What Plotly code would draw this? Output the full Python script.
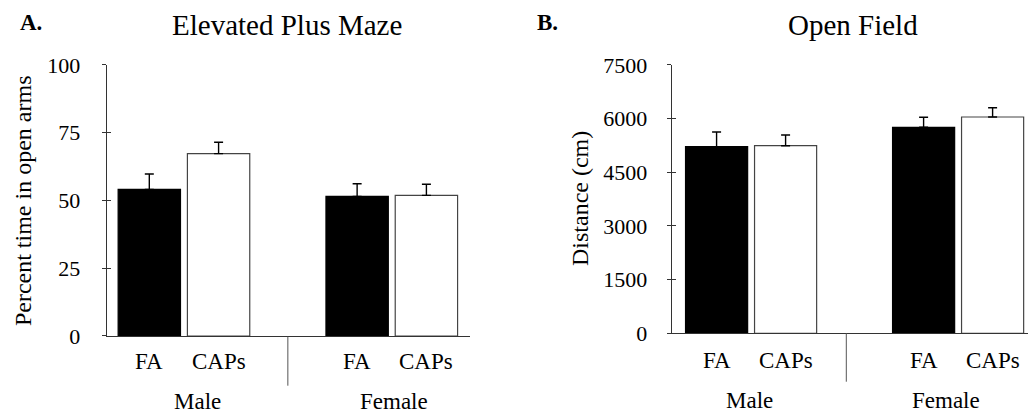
import plotly.graph_objects as go

# ---- data ----
groups = ["Male", "Female"]
treatments = ["FA", "CAPs", "FA", "CAPs"]
bar_pos = [0, 1, 3, 4]

epm_mean = [54.1, 67.3, 51.5, 51.9]
epm_sem = [5.7, 4.2, 4.7, 4.1]

of_mean = [5216, 5244, 5758, 6047]
of_sem = [411, 300, 280, 260]

epm_ticks = [0, 25, 50, 75, 100]
of_ticks = [0, 1500, 3000, 4500, 6000, 7500]

fills = ["black", "white", "black", "white"]
outlines = ["black", "#444444", "black", "#444444"]

FONT = "Liberation Serif, Times New Roman, serif"

fig = go.Figure()

def add_panel(means, sems, xa, ya):
    fig.add_trace(go.Bar(
        x=bar_pos, y=means, width=0.9,
        marker=dict(color=fills, line=dict(color=outlines, width=1.2)),
        error_y=dict(type="data", symmetric=False, array=sems,
                     arrayminus=[0] * len(sems), color="black",
                     thickness=1.4, width=4.5),
        xaxis=xa, yaxis=ya, showlegend=False, hoverinfo="skip"))

add_panel(epm_mean, epm_sem, "x", "y")
add_panel(of_mean, of_sem, "x2", "y2")
# invisible traces for the overlay axes that draw crossing tick marks
for ya, xa in [("y3", "x"), ("y4", "x2"), ("y5", "x"), ("y6", "x2")]:
    fig.add_trace(go.Scatter(x=[None], y=[None], xaxis=xa, yaxis=ya,
                             showlegend=False, hoverinfo="skip"))

axcol = "#333333"
yA = [0.1884, 0.843]
yB = [0.1949, 0.843]

def yax(domain, rng, ticks, anchor, gap):
    # labelled axis; its own ticks are transparent and only set the label gap
    return dict(domain=domain, range=rng, tickvals=ticks, ticks="outside",
                ticklen=gap, tickwidth=1, tickcolor="rgba(0,0,0,0)", showline=True,
                linecolor=axcol, linewidth=1, showgrid=False, zeroline=False,
                anchor=anchor, automargin=False,
                tickfont=dict(family=FONT, size=22, color="black"))

def yover(domain, rng, ticks, over, anchor, side):
    return dict(domain=domain, range=rng, tickvals=ticks, ticks=side,
                ticklen=4, tickwidth=1, tickcolor=axcol, showline=False,
                showticklabels=False, showgrid=False, zeroline=False,
                overlaying=over, anchor=anchor, automargin=False)

def xax(domain, rng, anchor):
    return dict(domain=domain, range=rng, showline=True, linecolor=axcol,
                linewidth=1, ticks="", showticklabels=False, showgrid=False,
                zeroline=False, anchor=anchor, automargin=False)

fig.update_layout(
    width=1029, height=414,
    margin=dict(l=0, r=0, t=0, b=0, pad=0, autoexpand=False),
    paper_bgcolor="white", plot_bgcolor="rgba(0,0,0,0)",
    bargap=0,
    xaxis=xax([0.1037, 0.4568], [-0.615, 4.63], "y"),
    xaxis2=xax([0.6528, 0.9995], [-0.65, 4.52], "y2"),
    yaxis=yax(yA, [0, 100], epm_ticks, "x", 21),
    yaxis2=yax(yB, [0, 7500], of_ticks, "x2", 19),
    yaxis3=yover(yA, [0, 100], epm_ticks, "y", "x", "inside"),
    yaxis4=yover(yB, [0, 7500], of_ticks, "y2", "x2", "inside"),
    yaxis5=yover(yA, [0, 100], epm_ticks, "y", "x", "outside"),
    yaxis6=yover(yB, [0, 7500], of_ticks, "y2", "x2", "outside"),
)

anns = []
def txt(x, y, s, size=23, xref="paper", yref="paper", bold=False, angle=0):
    anns.append(dict(x=x, y=y, xref=xref, yref=yref, text=(f"<b>{s}</b>" if bold else s),
                     showarrow=False, textangle=angle,
                     font=dict(family=FONT, size=size, color="black"),
                     xanchor="center", yanchor="middle"))

# panel letters and titles
txt(31 / 1029, 1 - 22 / 414, "A.", size=23, bold=True)
txt(547.5 / 1029, 1 - 22 / 414, "B.", size=23, bold=True)
txt(0.2792, 1 - 25 / 414, "Elevated Plus Maze", size=29)
txt(0.8293, 1 - 25 / 414, "Open Field", size=29)

# y axis titles
txt(23.3 / 1029, 1 - 200.8 / 414, "Percent time in open arms", size=24, angle=-90)
txt(580 / 1029, 1 - 199 / 414, "Distance (cm)", size=24, angle=-90)

# treatment labels
for p, t in zip(bar_pos, treatments):
    txt(p, 1 - 361.7 / 414, t, xref="x")
    txt(p, 1 - 360.5 / 414, t, xref="x2")

# group labels
grpA_x = [0.69, 3.53]
grpB_x = [0.47, 3.33]
for gx, g in zip(grpA_x, groups):
    txt(gx, 1 - 401.7 / 414, g, xref="x")
for gx, g in zip(grpB_x, groups):
    txt(gx, 1 - 400 / 414, g, xref="x2")

fig.update_layout(annotations=anns)

# group separators
sepA = 2.0
sepB = 1.88
fig.add_shape(type="line", xref="x", yref="paper", x0=sepA, x1=sepA,
              y0=1 - 336.7 / 414, y1=1 - 385.7 / 414,
              line=dict(color="#555555", width=1))
fig.add_shape(type="line", xref="x2", yref="paper", x0=sepB, x1=sepB,
              y0=1 - 333.3 / 414, y1=1 - 381.7 / 414,
              line=dict(color="#555555", width=1))

fig.write_html(
    "out.html",
    config={"displayModeBar": False, "staticPlot": True},
    post_script="document.body.style.margin='0';document.body.style.overflow='hidden';",
)
